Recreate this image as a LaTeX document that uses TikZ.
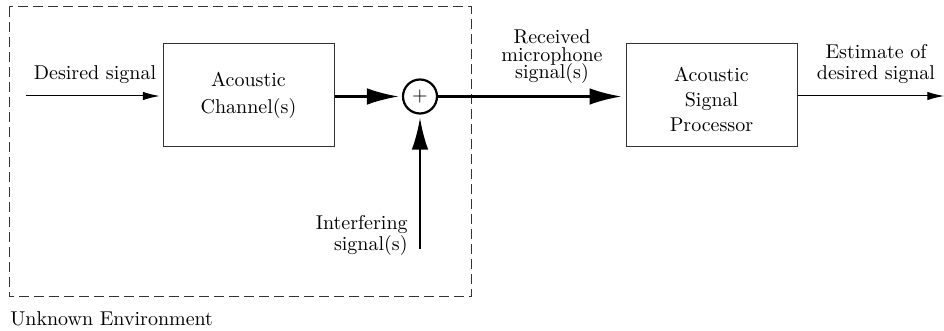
\documentclass[tikz,border=0pt]{standalone}
\usetikzlibrary{arrows.meta}
\tikzset{
  block/.style={draw=black!80, line width=0.5pt, minimum width=85.5pt, minimum height=51.5pt, inner sep=0pt, align=center},
  sumnode/.style={draw, circle, line width=1.1pt, minimum size=17pt, inner sep=0pt},
  thinarrow/.style={line width=0.5pt, -{Latex[length=8.3pt,width=4.2pt]}},
  thickarrow/.style={line width=1.3pt, -{Latex[length=16pt,width=8.3pt]}},
  envbox/.style={draw=black!80, line width=0.5pt, dash pattern=on 5pt off 2.5pt},
  lbl/.style={inner sep=0pt, align=center}
}
\begin{document}
\begin{tikzpicture}[x=0.5pt, y=-0.5pt]
  \useasboundingbox (0,0) rectangle (944,331);

  % unknown environment boundary
  \draw[envbox] (9,7) rectangle (471,297);
  \node[inner sep=0pt, anchor=base west] (envlabel) at (10,326) {Unknown Environment};

  % blocks
  \node[block] (chan) at (248.5,95.5) {Acoustic\\[1.5pt]Channel(s)};
  \node[sumnode] (sum) at (420,96.5) {$+$};
  \node[block] (asp) at (711.5,95.5) {};
  \node[lbl] (asptext) at (711.5,99.5) {Acoustic\\[0.5pt]Signal\\[0.5pt]Processor};

  % free ends
  \coordinate (src) at (26,96);
  \coordinate (noise) at (420,249);
  \coordinate (out) at (944,96);

  % connectors
  \draw[thinarrow, shorten >=1.5pt] (src) -- (chan.west |- src);
  \draw[thickarrow, shorten >=1.5pt] (chan.east |- sum) -- (sum.west);
  \draw[thickarrow, shorten >=1.5pt] (noise) -- (sum.south);
  \draw[thickarrow, shorten >=2pt] (sum.east) -- (asp.west |- sum);
  \draw[thinarrow] (asp.east |- out) -- (out);

  % labels
  \node[inner sep=0pt, anchor=base] (lsrc) at (95,80) {Desired signal};
  \node[lbl] (lrecv) at (552,57) {Received\\[-3.25pt]microphone\\[-3.25pt]signal(s)};
  \node[lbl] (lest) at (876,64) {Estimate of\\[-1.5pt]desired signal};
  \node[inner sep=0pt, align=right, anchor=east] (lnoise) at (408,235) {Interfering\\[-1.5pt]signal(s)};
\end{tikzpicture}
\end{document}
